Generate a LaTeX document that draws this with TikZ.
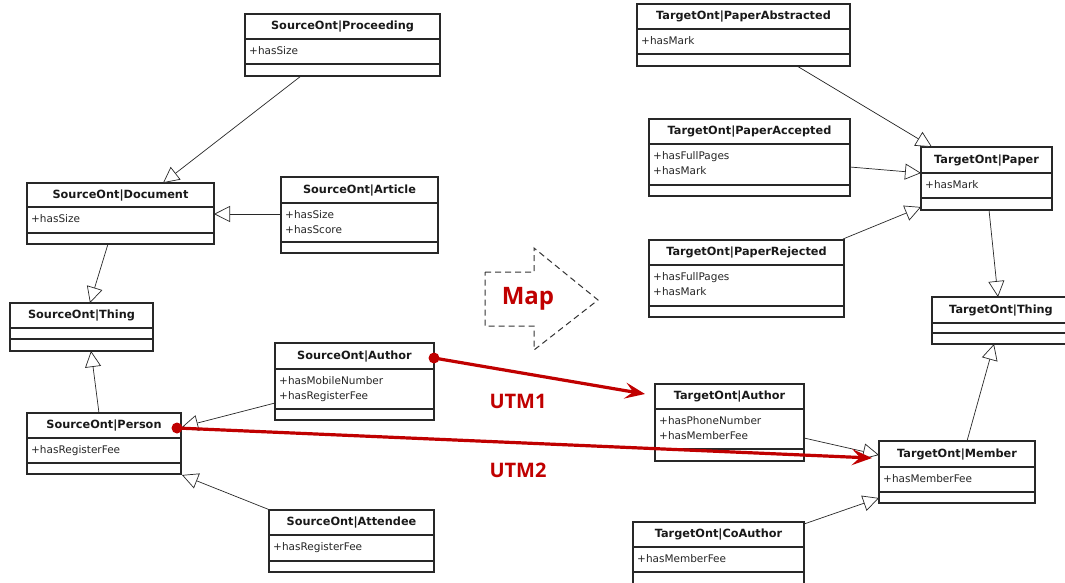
\documentclass[tikz,border=0pt]{standalone}
\usepackage{fontspec}
\setmainfont{DejaVu Sans}
\newfontfamily\redfont{Open Sans}
\usetikzlibrary{arrows.meta,calc}
\definecolor{umlred}{RGB}{192,0,0}
\definecolor{umlline}{RGB}{40,40,40}
\tikzset{
  classbox/.style={draw=umlline, line width=1.1pt, inner sep=0pt, outer sep=0pt, fill=white},
  sepline/.style={draw=umlline, line width=1.1pt},
  titletext/.style={font=\fontsize{11.3}{13}\selectfont\bfseries, text=black!90, inner sep=0pt},
  attrtext/.style={font=\fontsize{10.5}{15}\selectfont, text=black!85, inner sep=0pt, align=left},
  gen/.style={draw=umlline, line width=0.7pt, -{Triangle[fill=white, length=16pt, width=16pt, line width=0.7pt]}},
  utm/.style={draw=umlred, line width=3.2pt, -{Stealth[length=20pt, width=16pt, inset=8pt]}},
  utmlabel/.style={font=\redfont\bfseries\fontsize{20}{24}\selectfont, text=umlred},
  mapshape/.style={draw=black!80, line width=1pt, dash pattern=on 6pt off 4pt},
}
\newcommand\umlclass[9]{%
  \node[classbox, minimum width={(#4-#2)*1pt}, minimum height={(#7-#3)*1pt}, anchor=north west] (#1) at (#2,#3) {};
  \draw[sepline] (#2,#5) -- (#4,#5) (#2,#6) -- (#4,#6);
  \node[titletext] at ({(#2+#4)/2},{(#3+#5)/2+0.5}) {#8};
  \node[attrtext, anchor=north west] at (#2+4,#5+7) {#9};
}
\begin{document}
\begin{tikzpicture}[x=1pt,y=-1pt]
\clip (0,0) rectangle (1065,582);
\fill[white] (0,0) rectangle (1065,582);

% Source ontology
\umlclass{proc}{245}{14}{440}{39}{64}{76}{SourceOnt|Proceeding}{+hasSize}
\umlclass{doc}{27}{183}{214}{207}{233}{244}{SourceOnt|Document}{+hasSize}
\umlclass{art}{281}{177}{438}{203}{242}{253}{SourceOnt|Article}{+hasSize\\+hasScore}
\umlclass{sthing}{10}{303}{153}{328}{339}{351}{SourceOnt|Thing}{}
\umlclass{sauth}{275}{343}{434}{369}{409}{420}{SourceOnt|Author}{+hasMobileNumber\\+hasRegisterFee}
\umlclass{person}{27}{413}{181}{438}{463}{474}{SourceOnt|Person}{+hasRegisterFee}
\umlclass{attend}{269}{510}{434}{535}{561}{572}{SourceOnt|Attendee}{+hasRegisterFee}

% Target ontology
\umlclass{pabs}{637}{4}{850}{29}{54}{66}{TargetOnt|PaperAbstracted}{+hasMark}
\umlclass{pacc}{649}{119}{850}{144}{185}{196}{TargetOnt|PaperAccepted}{+hasFullPages\\+hasMark}
\umlclass{paper}{921}{147}{1052}{173}{198}{210}{TargetOnt|Paper}{+hasMark}
\umlclass{prej}{649}{240}{844}{265}{306}{317}{TargetOnt|PaperRejected}{+hasFullPages\\+hasMark}
\umlclass{tthing}{932}{297}{1070}{323}{333}{344}{TargetOnt|Thing}{}
\umlclass{tauth}{655}{384}{804}{409}{449}{461}{TargetOnt|Author}{+hasPhoneNumber\\+hasMemberFee}
\umlclass{member}{879}{441}{1035}{467}{492}{503}{TargetOnt|Member}{+hasMemberFee}
\umlclass{coauth}{633}{522}{804}{547}{572}{597}{TargetOnt|CoAuthor}{+hasMemberFee}

% Generalisations (source)
\draw[gen] ($(proc.south west)+(56,0)$) -- ($(doc.north west)+(136,0)$);
\draw[gen] ($(art.north west)+(0,37)$) -- ($(doc.north east)+(0,31)$);
\draw[gen] ($(doc.south west)+(81,0)$) -- ($(sthing.north west)+(80,0)$);
\draw[gen] ($(person.north west)+(72,0)$) -- ($(sthing.south west)+(81,0)$);
\draw[gen] ($(sauth.north west)+(0,60)$) -- ($(person.north east)+(1,14)$);
\draw[gen] ($(attend.north west)+(1,0)$) -- ($(person.south east)+(1,1)$);

% Generalisations (target)
\draw[gen] ($(pabs.south west)+(160,0)$) -- ($(paper.north west)+(11,0)$);
\draw[gen] ($(pacc.north east)+(0,48)$) -- ($(paper.north west)+(0,26)$);
\draw[gen] ($(prej.north east)+(-1,-1)$) -- ($(paper.south west)+(0,-3)$);
\draw[gen] ($(paper.south west)+(68,0)$) -- ($(tthing.north west)+(66,0)$);
\draw[gen] ($(member.north west)+(88,0)$) -- ($(tthing.south west)+(62,0)$);
\draw[gen] ($(tauth.north east)+(0,54)$) -- ($(member.north west)+(0,14)$);
\draw[gen] ($(coauth.north east)+(0,2)$) -- ($(member.south west)+(0,-5)$);

% Map arrow
\draw[mapshape] (485,272) coordinate (m1) -- (534,272) -- (534,248) -- (598,300) -- (534,350) -- (534,326) -- (485,326) -- cycle;
\node[font=\redfont\bfseries\fontsize{24}{28}\selectfont, text=umlred] (maplabel) at (528,299) {Map};

% Mappings
\coordinate (u1s) at ($(sauth.north east)+(0,15)$);
\coordinate (u1e) at ($(tauth.north west)+(-10,10)$);
\coordinate (u2s) at ($(person.north east)+(-4,15)$);
\coordinate (u2e) at ($(member.north west)+(-7,17)$);
\draw[utm] (u1s) -- (u1e);
\draw[utm] (u2s) -- (u2e);
\fill[umlred] (u1s) circle (5.5);
\fill[umlred] (u2s) circle (5.5);
\node[utmlabel] (utm1) at (518,401) {UTM1};
\node[utmlabel] (utm2) at (518,470) {UTM2};
\end{tikzpicture}
\end{document}
